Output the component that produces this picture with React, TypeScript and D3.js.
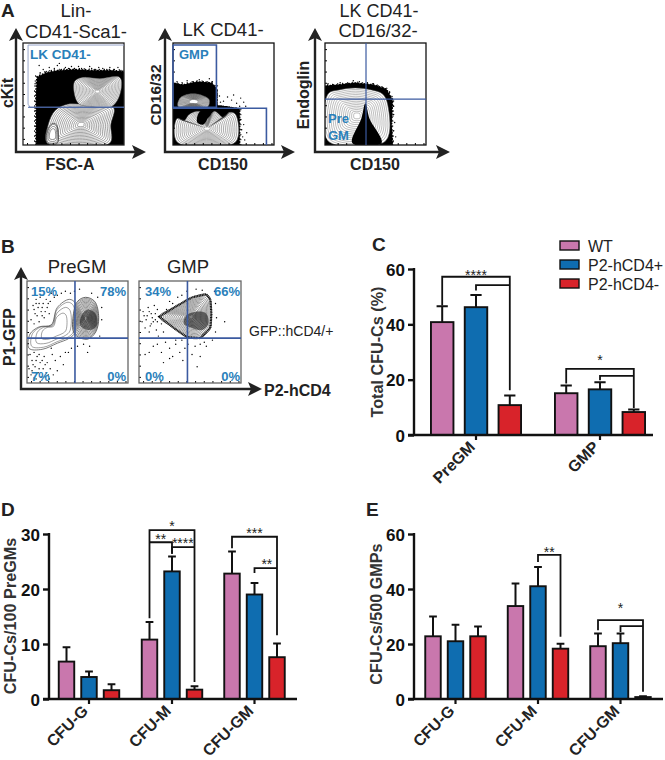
import React, { useEffect, useRef } from 'react'
import * as d3 from 'd3'

type Pt = [number, number]

const seriesNames = ['WT', 'P2-hCD4+', 'P2-hCD4-']
const seriesColors = ['#c977ad', '#0f6db0', '#d8232a']

// panel C
const cCats = ['PreGM', 'GMP']
const cValues = [[40.8, 46.2, 10.8], [15.1, 16.5, 8.3]]
const cErrors = [[46.5, 50.6, 14.3], [17.9, 19.1, 9.2]]
// panel D
const dCats = ['CFU-G', 'CFU-M', 'CFU-GM']
const dValues = [[6.8, 4.0, 1.6], [10.8, 23.2, 1.7], [22.8, 19.0, 7.6]]
const dErrors = [[9.4, 5.0, 2.7], [14.0, 25.9, 2.3], [26.8, 21.1, 10.1]]
// panel E
const eCats = ['CFU-G', 'CFU-M', 'CFU-GM']
const eValues = [[22.8, 21.0, 22.8], [33.8, 41.0, 18.3], [19.2, 20.3, 0.7]]
const eErrors = [[30.0, 27.0, 26.4], [42.0, 48.0, 20.1], [23.8, 23.8, 1.0]]

// group, from bar, to bar, level, left leg end, right leg end
const cBrackets = [
  [0, 0, 2, 57.2, 46.8, 16.2],
  [0, 1, 2, 54.2, 52.2, 54.2],
  [1, 0, 2, 23.9, 18.6, 9.8],
  [1, 1, 2, 21.4, 19.8, 21.4],
]
const dBrackets = [
  [1, 0, 2, 30.7, 14.7, 3.1],
  [1, 0, 1, 28.5, 28.5, 26.4],
  [1, 1, 2, 27.6, 26.4, 27.6],
  [2, 0, 2, 29.5, 27.4, 11.6],
  [2, 1, 2, 23.8, 22.9, 23.8],
]
const eBrackets = [
  [1, 1, 2, 52.4, 49.8, 22.6],
  [2, 0, 2, 28.7, 25.0, 2.6],
  [2, 1, 2, 26.5, 24.4, 26.5],
]
// label, group, bar position, value at the label baseline
const cStars: [string, number, number, number][] = [['****', 0, 1, 56], ['*', 1, 1, 25.2]]
const dStars: [string, number, number, number][] = [['*', 1, 1, 30.6], ['**', 1, 0.5, 28.2], ['****', 1, 1.48, 27.4], ['***', 2, 1, 29.2], ['**', 2, 1.55, 23.7]]
const eStars: [string, number, number, number][] = [['**', 1, 1.5, 51.5], ['*', 2, 1, 31.4]]

// flow plots, all outlines in percent of the plot box (x right, y up)
const a1Dense: Pt[] = [[14, 1], [14, 30], [14, 52], [15, 66], [24, 70], [35, 72], [50, 73], [70, 72], [88, 72], [100, 71], [100, 1]]
const a1Inner: Pt[] = [[24, 2], [25, 20], [32, 34], [44, 40], [60, 40], [80, 40], [90, 36], [87, 20], [86, 2]]
const a1Lobe: Pt[] = [[24, 2], [24, 14], [29, 21], [33, 20], [35, 10], [34, 2]]
const a1Top: Pt[] = [[52, 46], [51, 62], [58, 66], [76, 65], [96, 66], [96, 50], [88, 38], [66, 38], [56, 40]]
const a1Specks: Pt[] = [[17, 71], [20, 74], [23, 72], [26, 76], [28, 73], [31, 75], [34, 78], [38, 74], [42, 76], [45, 75], [48, 77], [52, 74], [55, 77], [58, 75], [62, 74], [66, 77], [68, 75], [72, 74], [75, 76], [79, 75], [83, 74], [86, 76], [90, 74], [94, 76], [97, 73], [12, 60], [13, 45], [12, 36], [16, 78], [36, 80]]

const a2Dense: Pt[] = [[0, 1], [0, 60], [10, 58], [24, 61], [38, 60], [43, 54], [43, 38], [53, 37], [65, 35], [65, 1]]
const a2TopLobe: Pt[] = [[5, 38], [7, 46], [16, 50], [28, 49], [36, 44], [34, 37], [18, 36]]
const a2Low: Pt[] = [[4, 3], [4, 26], [11, 24], [16, 30], [26, 33], [34, 26], [41, 33], [50, 27], [56, 32], [62, 30], [62, 3]]
const a2Core: Pt[] = [[24, 22], [26, 32], [33, 34], [35, 30], [30, 20]]
const a2Specks: Pt[] = [[4, 62], [9, 61], [14, 63], [20, 62], [26, 64], [30, 62], [36, 65], [39, 62], [44, 58], [46, 48], [47, 42], [50, 43], [54, 47], [58, 44], [60, 49], [63, 41], [67, 46], [70, 42], [66, 38], [72, 38], [67, 25], [68, 15], [69, 8], [70, 20], [71, 5], [73, 12]]

const a3Dense: Pt[] = [[0, 1], [0, 57], [12, 58], [30, 60], [48, 58], [60, 54], [66, 44], [65, 20], [66, 1]]
const a3Inner: Pt[] = [[3, 4], [3, 50], [14, 54], [30, 56], [46, 54], [57, 50], [62, 40], [60, 4]]
const a3Core: Pt[] = [[27, 2], [36, 26], [40, 41], [44, 26], [56, 2]]
const a3Specks: Pt[] = [[3, 60], [8, 59], [15, 61], [22, 60], [28, 63], [34, 62], [42, 61], [48, 60], [53, 58], [58, 56], [64, 52], [67, 45], [68, 38], [68, 30], [69, 22], [68, 14], [70, 8], [66, 5]]

const b1Main: Pt[] = [[47, 48], [46, 68], [50, 80], [58, 84], [67, 80], [71, 64], [68, 50], [60, 43]]
const b1Wide: Pt[] = [[2, 34], [3, 48], [12, 55], [24, 57], [30, 74], [42, 82], [48, 78], [48, 50], [42, 44], [30, 39], [15, 33]]
const b1Core: Pt[] = [[53, 56], [54, 66], [60, 72], [68, 68], [69, 56], [62, 52]]
const b1Specks: Pt[] = [[6, 76], [9, 82], [8, 68], [11, 74], [12, 60], [13, 84], [14, 70], [16, 78], [17, 64], [19, 82], [20, 74], [22, 68], [23, 80], [24, 88], [27, 84], [30, 86], [34, 88], [38, 90], [43, 88], [47, 90], [52, 92], [64, 88], [70, 84], [74, 74], [74, 62], [72, 46], [4, 62], [7, 58], [3, 28], [5, 22], [7, 30], [8, 16], [10, 26], [11, 10], [13, 20], [14, 6], [16, 14], [17, 26], [19, 10], [20, 20], [22, 4], [23, 14], [25, 28], [26, 8], [28, 22], [30, 12], [33, 26], [36, 18], [41, 30], [44, 34], [50, 36], [56, 38], [60, 30], [62, 36], [38, 30], [24, 34], [4, 8], [7, 5], [2, 14], [9, 4], [7, 72], [10, 66], [12, 78], [15, 74], [18, 70], [21, 78], [9, 78], [15, 66], [6, 18], [9, 22], [12, 14], [15, 22], [18, 18], [21, 8], [5, 12], [12, 28], [18, 6]]

const b2Main: Pt[] = [[20, 65], [36, 75], [52, 84], [66, 87], [70, 82], [71, 68], [70, 54], [60, 44], [47, 45], [34, 54]]
const b2Core: Pt[] = [[44, 58], [46, 66], [58, 70], [66, 68], [68, 58], [62, 52], [52, 54]]
const b2Specks: Pt[] = [[4, 70], [7, 62], [9, 74], [11, 56], [12, 68], [14, 60], [15, 76], [17, 52], [18, 72], [10, 50], [6, 54], [3, 60], [19, 46], [22, 58], [24, 50], [27, 72], [30, 80], [33, 78], [38, 84], [42, 86], [47, 90], [56, 92], [62, 91], [74, 90], [75, 78], [76, 64], [75, 50], [72, 42], [84, 60], [14, 36], [18, 38], [22, 30], [26, 40], [30, 34], [33, 26], [36, 38], [40, 30], [43, 22], [45, 34], [48, 38], [52, 28], [55, 36], [57, 16], [60, 38], [64, 40], [30, 24], [24, 20], [10, 30], [6, 28], [36, 42], [42, 42], [66, 36], [60, 26], [8, 66], [13, 64], [16, 68], [12, 58], [16, 62], [10, 70], [18, 60], [5, 66]]

const flowLevels = [0.94, 0.88, 0.82, 0.76, 0.7, 0.64, 0.58, 0.52, 0.46, 0.4, 0.34, 0.28, 0.22, 0.16, 0.1]
const outerLevels = [0.9, 0.72, 0.52]
const speckleEdges: [number, number, string][] = [[1, 2.4, '0.6 1.6'], [1.03, 1.5, '0.5 2.6'], [1.06, 1.1, '0.4 4.6']]

const W = 665
const H = 760
const font = '"Liberation Sans", Arial, sans-serif'
const gateBlue = '#3b5aa0'
const labelBlue = '#2a80ba'

export default function App() {
  const ref = useRef<SVGSVGElement>(null)

  useEffect(() => {
    const svg = d3.select(ref.current)
    svg.selectAll('*').remove()
    svg.attr('font-family', font)
    const defs = svg.append('defs')
    let clipCount = 0

    const text = (x: number, y: number, s: string, size: number, weight = 'normal', anchor = 'start', fill = '#222', rot = 0) => {
      const t = svg.append('text').attr('x', x).attr('y', y).attr('font-size', size)
        .attr('font-weight', weight).attr('text-anchor', anchor).attr('fill', fill).text(s)
      if (rot) t.attr('transform', `rotate(${rot},${x},${y})`)
      return t
    }

    const arrows = (x0: number, y0: number, top: number, right: number) => {
      svg.append('path').attr('d', `M${x0},${top + 8}V${y0}H${right - 8}`)
        .attr('fill', 'none').attr('stroke', '#222').attr('stroke-width', 2.4)
      svg.append('path').attr('fill', '#222')
        .attr('d', `M${x0},${top}l7,13l-7,-3l-7,3Z`)
      svg.append('path').attr('fill', '#222')
        .attr('d', `M${right},${y0}l-14,-7l3,7l-3,7Z`)
    }

    const flowBox = (l: number, t: number, r: number, b: number, stroke: string) => {
      const x = d3.scaleLinear().domain([0, 100]).range([l, r])
      const y = d3.scaleLinear().domain([0, 100]).range([b, t])
      const id = `flow-clip-${clipCount++}`
      defs.append('clipPath').attr('id', id).append('rect').attr('x', l).attr('y', t).attr('width', r - l).attr('height', b - t)
      const outer = svg.append('g')
      const g = outer.append('g').attr('clip-path', `url(#${id})`)
      const line = d3.line<Pt>().x(d => x(d[0])).y(d => y(d[1])).curve(d3.curveCatmullRomClosed.alpha(0.5))
      const poly = d3.line<Pt>().x(d => x(d[0])).y(d => y(d[1])).curve(d3.curveLinearClosed)
      const scaled = (pts: Pt[], k: number): Pt[] => {
        const c = d3.polygonCentroid(pts)
        return pts.map(p => [c[0] + (p[0] - c[0]) * k, c[1] + (p[1] - c[1]) * k] as Pt)
      }
      return {
        x, y, g,
        dense(pts: Pt[]) {
          g.append('path').attr('d', poly(pts)).attr('fill', '#000')
          g.selectAll(null).data(speckleEdges).join('path')
            .attr('d', e => poly(scaled(pts, e[0]))).attr('fill', 'none').attr('stroke', '#000')
            .attr('stroke-width', e => e[1]).attr('stroke-dasharray', e => e[2]).attr('stroke-linecap', 'round')
        },
        rings(pts: Pt[], levels: number[], fill: string | null, w = 0.5, color = '#222') {
          g.append('path').attr('d', line(pts)).attr('fill', fill ?? 'none').attr('stroke', color).attr('stroke-width', w + 0.2)
          g.selectAll(null).data(levels).join('path')
            .attr('d', k => line(scaled(pts, k))).attr('fill', 'none').attr('stroke', color).attr('stroke-width', w)
        },
        solid(pts: Pt[], fill = '#000') {
          g.append('path').attr('d', line(pts)).attr('fill', fill)
        },
        specks(pts: Pt[]) {
          g.selectAll(null).data(pts).join('circle')
            .attr('cx', d => x(d[0])).attr('cy', d => y(d[1])).attr('r', 0.7).attr('fill', '#000')
        },
        frame() {
          const bottom = d3.axisBottom(x).tickValues(d3.range(4, 100, 8.5)).tickSize(-2).tickFormat(() => '')
          const left = d3.axisLeft(y).tickValues(d3.range(6, 100, 11)).tickSize(-2).tickFormat(() => '')
          outer.append('g').attr('transform', `translate(0,${b})`).call(bottom as any).call(s => s.select('.domain').remove())
          outer.append('g').attr('transform', `translate(${l},0)`).call(left as any).call(s => s.select('.domain').remove())
          outer.append('rect').attr('x', l).attr('y', t).attr('width', r - l).attr('height', b - t)
            .attr('fill', 'none').attr('stroke', stroke).attr('stroke-width', 1.3)
        },
        gate(d: [number, number][], w = 1.5, color = gateBlue) {
          outer.append('path').attr('d', d3.line<Pt>().x(p => x(p[0])).y(p => y(p[1]))(d))
            .attr('fill', 'none').attr('stroke', color).attr('stroke-width', w)
        },
      }
    }

    // panel A
    text(1, 17, 'A', 19, 'bold', 'start', '#222')
    text(76, 17, 'Lin-', 18.5, 'normal', 'middle')
    text(76, 38, 'CD41-Sca1-', 18.5, 'normal', 'middle')
    text(223, 36, 'LK CD41-', 18.5, 'normal', 'middle')
    text(379, 16.5, 'LK CD41-', 18, 'normal', 'middle')
    text(378, 37, 'CD16/32-', 18.5, 'normal', 'middle')

    arrows(16, 152, 28, 146)
    arrows(165, 152, 28, 295)
    arrows(315, 152, 28, 450)

    const a1 = flowBox(23, 43, 124, 145, '#222')
    a1.dense(a1Dense)
    a1.rings(a1Inner, flowLevels, '#fff', 0.45, '#333')
    a1.rings(a1Lobe, outerLevels, '#fff')
    a1.rings(a1Top, flowLevels, '#fff', 0.45, '#555')
    a1.specks(a1Specks)
    a1.frame()
    a1.gate([[100, 37], [7, 37], [5, 40], [5, 98], [100, 98]], 0.9, '#8c9cc4')
    a1.gate([[5, 37], [100, 37]], 1.1)

    const a2 = flowBox(173, 43, 274, 145, '#111')
    a2.dense(a2Dense)
    a2.rings(a2TopLobe, flowLevels.slice(0, 12), '#fff', 0.45, '#333')
    a2.rings(a2Low, flowLevels, '#fff', 0.4, '#333')
    a2.solid(a2Core)
    a2.specks(a2Specks)
    a2.frame()
    a2.gate([[0, 98], [43, 98], [43, 37], [0, 37], [0, 98]], 1.6)
    a2.gate([[0, 36], [92.5, 36], [92.5, 0]], 1.6)

    const a3 = flowBox(325, 43, 426, 145, '#111')
    a3.dense(a3Dense)
    a3.rings(a3Inner, flowLevels, '#fff', 0.35, '#444')
    a3.solid(a3Core)
    a3.specks(a3Specks)
    a3.frame()
    a3.gate([[40.6, 100], [40.6, 0]], 1.2)
    a3.gate([[0, 45], [100, 45]], 1.2)

    text(30, 59, 'LK CD41-', 13.5, 'bold', 'start', labelBlue)
    text(179, 59, 'GMP', 13, 'bold', 'start', labelBlue)
    text(328, 123, 'Pre', 13, 'bold', 'start', labelBlue)
    text(328, 140, 'GM', 13, 'bold', 'start', labelBlue)

    text(13, 93, 'cKit', 16, 'bold', 'middle', '#222', -90)
    text(161, 95, 'CD16/32', 15.5, 'bold', 'middle', '#222', -90)
    text(309, 95, 'Endoglin', 16, 'bold', 'middle', '#222', -90)
    text(70, 170, 'FSC-A', 16, 'bold', 'middle')
    text(223, 170, 'CD150', 16, 'bold', 'middle')
    text(375, 170, 'CD150', 16, 'bold', 'middle')

    // panel B
    text(1, 253, 'B', 19, 'bold')
    text(77, 273, 'PreGM', 18.5, 'normal', 'middle')
    text(188, 273, 'GMP', 18.5, 'normal', 'middle')
    arrows(21, 389, 267, 262)

    const b1 = flowBox(27, 281, 128, 383, '#666')
    b1.rings(b1Wide, outerLevels, null, 0.5, '#444')
    b1.specks(b1Specks)
    b1.rings(b1Main, flowLevels, '#fff', 0.5, '#222')
    b1.solid(b1Core, 'rgba(0,0,0,0.45)')
    b1.frame()
    b1.gate([[47.5, 0], [47.5, 100]], 1.6)
    b1.gate([[0, 44], [100, 44]], 1.6)

    const b2 = flowBox(139, 281, 241, 383, '#666')
    b2.specks(b2Specks)
    b2.g.append('path').attr('d', d3.line<Pt>().x(d => b2.x(d[0])).y(d => b2.y(d[1])).curve(d3.curveLinearClosed)(b2Main))
      .attr('fill', '#fff').attr('stroke', '#000').attr('stroke-width', 2.2).attr('stroke-dasharray', '1 0.6')
    b2.rings(b2Main, flowLevels, null, 0.45, '#222')
    b2.solid(b2Core, 'rgba(0,0,0,0.5)')
    b2.frame()
    b2.gate([[47.5, 0], [47.5, 100]], 1.6)
    b2.gate([[0, 44], [100, 44]], 1.6)

    const bLabels: [number, number, string, string][] = [
      [31, 296, '15%', 'start'], [126, 296, '78%', 'end'], [31, 381, '7%', 'start'], [126, 381, '0%', 'end'],
      [145, 296, '34%', 'start'], [240, 296, '66%', 'end'], [145, 381, '0%', 'start'], [240, 381, '0%', 'end'],
    ]
    bLabels.forEach(d => text(d[0], d[1], d[2], 13, 'bold', d[3], labelBlue))
    text(15, 337, 'P1-GFP', 16, 'bold', 'middle', '#222', -90)
    text(264, 396, 'P2-hCD4', 16, 'bold')
    text(249, 336, 'GFP::hCD4/+', 14)

    // bar panels
    const barChart = (opt: {
      left: number, right: number, y0: number, yTop: number, max: number, step: number, barW: number,
      centers: number[], cats: string[], values: number[][], errors: number[][], brackets: number[][],
      stars: [string, number, number, number][], ticks: number[], title: string, titleX: number, titleY: number,
    }) => {
      const y = d3.scaleLinear().domain([0, opt.max]).range([opt.y0, opt.yTop])
      const group = d3.scaleOrdinal<string, number>().domain(opt.cats).range(opt.centers)
      const inner = d3.scaleBand<number>().domain([0, 1, 2]).range([-1.5 * opt.step, 1.5 * opt.step])
      const barX = (g: number, i: number) => group(opt.cats[g]) + inner(0)! + inner.step() * (i + 0.5)
      const g = svg.append('g')

      opt.values.forEach((vals, gi) => {
        vals.forEach((v, i) => {
          const cx = barX(gi, i)
          const e = opt.errors[gi][i]
          g.append('path').attr('d', `M${cx},${y(v)}V${y(e)}M${cx - opt.barW / 4},${y(e)}H${cx + opt.barW / 4}`)
            .attr('fill', 'none').attr('stroke', '#111').attr('stroke-width', 2)
          g.append('rect').attr('x', cx - opt.barW / 2).attr('y', y(v)).attr('width', opt.barW)
            .attr('height', opt.y0 - y(v)).attr('fill', seriesColors[i]).attr('stroke', '#111').attr('stroke-width', 1.9)
        })
      })

      opt.brackets.forEach(([gi, from, to, level, legA, legB]) => {
        const a = barX(gi, from)
        const b = barX(gi, to)
        g.append('path').attr('d', `M${a},${y(legA)}V${y(level)}H${b}V${y(legB)}`)
          .attr('fill', 'none').attr('stroke', '#111').attr('stroke-width', 1.8)
      })

      opt.stars.forEach(([s, gi, pos, val]) => {
        const cx = barX(gi, 0) + pos * inner.step()
        text(cx, y(val), s, 14, 'normal', 'middle', '#222')
      })

      const yAxis = d3.axisLeft(y).tickValues(opt.ticks).tickSize(6).tickPadding(3)
      const ax = svg.append('g').attr('transform', `translate(${opt.left},0)`).call(yAxis as any)
      ax.select('.domain').attr('stroke', '#111').attr('stroke-width', 2.4).attr('d', `M0,${opt.y0}V${opt.yTop - 1}`)
      ax.selectAll('.tick line').attr('stroke', '#111').attr('stroke-width', 2.4)
      ax.selectAll('.tick text').attr('font-size', 17).attr('font-weight', 'bold').attr('font-family', font).attr('fill', '#111')
        .attr('dy', '0.36em')

      svg.append('line').attr('x1', opt.left - 6).attr('x2', opt.right).attr('y1', opt.y0).attr('y2', opt.y0)
        .attr('stroke', '#111').attr('stroke-width', 2.4)
      opt.cats.forEach(c => {
        const cx = group(c)
        svg.append('line').attr('x1', cx).attr('x2', cx).attr('y1', opt.y0).attr('y2', opt.y0 + 5)
          .attr('stroke', '#111').attr('stroke-width', 2.2)
        text(cx, opt.y0 + 13, c, 16, 'bold', 'end', '#222', -45)
      })
      text(opt.titleX, opt.titleY, opt.title, 16.2, 'bold', 'middle', '#333', -90)
    }

    text(372, 251, 'C', 19, 'bold')
    barChart({
      left: 414, right: 653, y0: 435, yTop: 269, max: 60, step: 33.8, barW: 22.5,
      centers: [476, 600], cats: cCats, values: cValues, errors: cErrors, brackets: cBrackets, stars: cStars,
      ticks: [0, 20, 40, 60], title: 'Total CFU-Cs (%)', titleX: 383, titleY: 352,
    })

    text(1, 516, 'D', 19, 'bold')
    barChart({
      left: 49, right: 297, y0: 699, yTop: 534, max: 30, step: 22.5, barW: 15.5,
      centers: [89, 172, 254.5], cats: dCats, values: dValues, errors: dErrors, brackets: dBrackets, stars: dStars,
      ticks: [0, 10, 20, 30], title: 'CFU-Cs/100 PreGMs', titleX: 16, titleY: 616,
    })

    text(366, 516, 'E', 19, 'bold')
    barChart({
      left: 414, right: 663, y0: 699, yTop: 534, max: 60, step: 22.5, barW: 15.5,
      centers: [455.5, 538, 620.5], cats: eCats, values: eValues, errors: eErrors, brackets: eBrackets, stars: eStars,
      ticks: [0, 20, 40, 60], title: 'CFU-Cs/500 GMPs', titleX: 382, titleY: 614,
    })

    // legend
    const legendY = d3.scalePoint<string>().domain(seriesNames).range([245.5, 283.5])
    seriesNames.forEach((n, i) => {
      const ly = legendY(n)!
      svg.append('rect').attr('x', 560).attr('y', ly - 4.5).attr('width', 19).attr('height', 9)
        .attr('fill', seriesColors[i]).attr('stroke', '#111').attr('stroke-width', 1.4)
      text(588, ly + 6, n, 16, 'normal', 'start', '#222')
    })
  }, [])

  return <svg ref={ref} width={W} height={H} style={{ position: 'absolute', left: 0, top: 0, background: '#fff' }} />
}
